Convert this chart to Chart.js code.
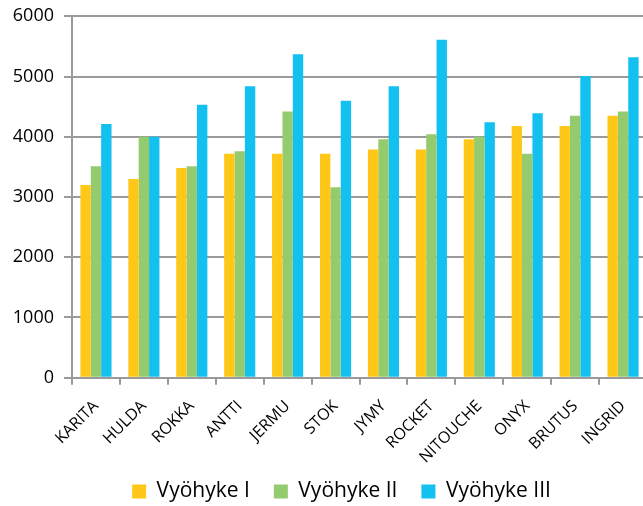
<!DOCTYPE html>
<html>
<head>
<meta charset="utf-8">
<script src="https://cdn.jsdelivr.net/npm/chart.js@4"></script>
<style>
  html, body { margin: 0; padding: 0; background: #fff; overflow: hidden; }
  #wrap { width: 650px; height: 512px; }
</style>
</head>
<body>
<div id="wrap"><canvas id="lajikkeet"></canvas></div>
<script>
const lajikkeet = ['KARITA', 'HULDA', 'ROKKA', 'ANTTI', 'JERMU', 'STOK', 'JYMY', 'ROCKET', 'NITOUCHE', 'ONYX', 'BRUTUS', 'INGRID'];
const vyohyke1 = [3200, 3300, 3480, 3720, 3720, 3720, 3790, 3790, 3960, 4180, 4180, 4350];
const vyohyke2 = [3510, 4000, 3510, 3760, 4420, 3160, 3960, 4040, 4000, 3720, 4350, 4420];
const vyohyke3 = [4210, 4000, 4530, 4840, 5370, 4600, 4840, 5610, 4240, 4390, 5010, 5320];
const yTicks = [0, 1000, 2000, 3000, 4000, 5000, 6000];

const font = '"Open Sans", Lato, sans-serif';
const gridGray = '#9a9a9a';
const xSqueeze = 22;

// legend a little right of centre, and x labels allowed to run into the legend's empty padding
const layoutTweaks = {
    id: 'layoutTweaks',
    afterLayout(chart) {
        chart.legend.left += 18;
        chart.legend.right += 18;
        chart.scales.x.bottom += xSqueeze;
    }
};

document.addEventListener('DOMContentLoaded', function() {
    const ctx = document.getElementById('lajikkeet').getContext('2d');

    new Chart(ctx, {
        type: 'bar',
        data: {
            labels: lajikkeet,
            datasets: [
                { label: 'Vyöhyke I', data: vyohyke1, backgroundColor: '#FFC819' },
                { label: 'Vyöhyke II', data: vyohyke2, backgroundColor: '#95CB6F' },
                { label: 'Vyöhyke III', data: vyohyke3, backgroundColor: '#13C1F0' }
            ]
        },
        plugins: [layoutTweaks],
        options: {
            responsive: true,
            maintainAspectRatio: false,
            animation: false,
            datasets: {
                bar: { barPercentage: 1, categoryPercentage: 0.65 }
            },
            layout: { padding: { top: 0, right: 3, bottom: 0, left: 0 } },
            plugins: {
                tooltip: { enabled: false },
                legend: {
                    position: 'bottom',
                    labels: {
                        boxWidth: 14,
                        boxHeight: 14,
                        padding: 24,
                        color: '#000',
                        font: { family: font, size: 21 }
                    }
                }
            },
            scales: {
                x: {
                    afterFit: function(scale) { scale.height -= xSqueeze; },
                    border: { color: gridGray, width: 2 },
                    grid: { drawOnChartArea: false, drawTicks: true, tickLength: 7, color: gridGray, lineWidth: 2 },
                    ticks: {
                        minRotation: 45,
                        maxRotation: 45,
                        color: '#000',
                        padding: 12,
                        font: { family: font, size: 16 }
                    }
                },
                y: {
                    min: 0,
                    max: 6000,
                    afterFit: function(scale) { scale.width = 72; },
                    afterBuildTicks: function(scale) {
                        scale.ticks = yTicks.map(v => ({ value: v }));
                    },
                    border: { color: gridGray, width: 2 },
                    grid: { color: gridGray, lineWidth: 2, tickLength: 8 },
                    ticks: {
                        color: '#000',
                        padding: 10,
                        font: { family: font, size: 18, lineHeight: 0.7 },
                        callback: function(value) { return String(value); }
                    }
                }
            }
        }
    });
});
</script>
</body>
</html>
